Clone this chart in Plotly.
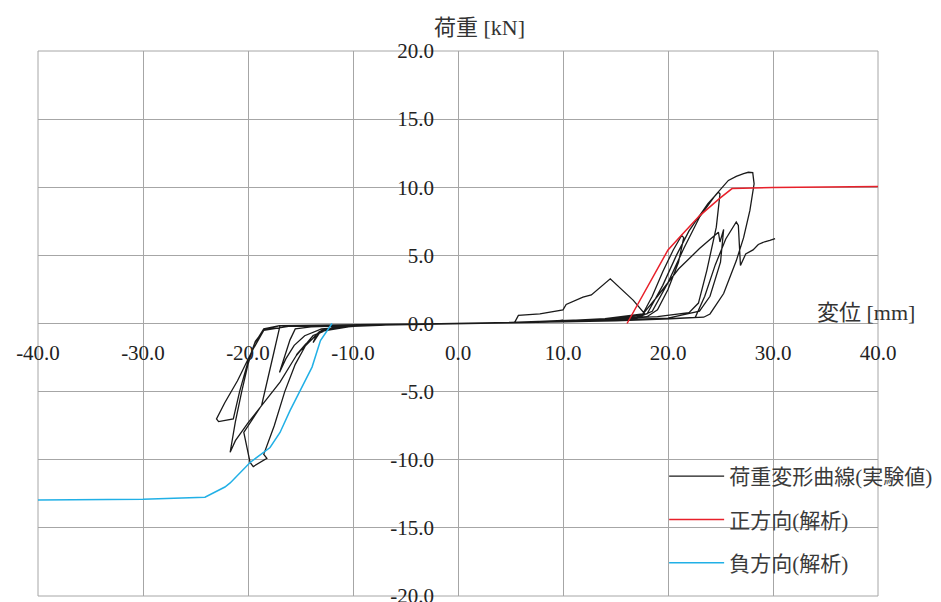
import plotly.graph_objects as go

# ---------------- data ----------------
# experimental load-displacement cycles (displacement mm, load kN)
c1_x = [0, 2.5, 5.0, 4.0, 0, -2.5, -5.0, -4.0, 0]
c1_y = [0, 0.03, 0.08, 0.05, 0, -0.03, -0.08, -0.05, 0]
c2_x = [0, 5, 10.0, 8.5, 4, 0, -5, -10.0, -8.5, -4, 0]
c2_y = [0, 0.06, 0.22, 0.14, 0.05, 0.0, -0.06, -0.2, -0.12, -0.04, 0]
pa_x = [0, 5.4, 5.75, 7.8, 10.0, 10.3, 11.9, 12.7, 14.5, 16.7, 17.8, 17.0, 15.0, 10.0, 5.0, 0]
pa_y = [0, 0.08, 0.59, 0.71, 1.0, 1.4, 1.93, 2.1, 3.28, 1.7, 0.7, 0.45, 0.35, 0.2, 0.08, 0]
na_x = [0, -5, -10, -12, -13.2, -13.8, -13.5, -14.5, -15.4, -14.6, -13.2, -10, -5, 0]
na_y = [0, -0.05, -0.15, -0.3, -0.7, -1.4, -0.9, -1.5, -2.3, -1.7, -0.6, -0.2, -0.05, 0]
pb_x = [0, 8, 14, 17.6, 18.5, 19.5, 20.5, 21.3, 21.5, 21.0, 20.0, 19.0, 18.0, 12.0, 5, 0]
pb_y = [0, 0.12, 0.35, 0.7, 2.0, 3.8, 5.4, 6.46, 6.3, 4.5, 2.5, 1.0, 0.5, 0.2, 0.05, 0]
nb_x = [0, -8, -14, -15.5, -16.0, -16.5, -17.0, -16.4, -15.6, -14.6, -13, -8, 0]
nb_y = [0, -0.1, -0.25, -0.4, -1.2, -2.4, -3.6, -2.6, -1.6, -0.9, -0.4, -0.1, 0]
pc_x = [0, 10, 15, 18.0, 19.5, 20.8, 22.0, 23.0, 23.8, 24.4, 24.8, 24.95, 24.6, 23.7, 22.9, 22.0, 19, 10, 0]
pc_y = [0, 0.15, 0.4, 0.7, 2.8, 5.0, 6.8, 7.9, 8.8, 9.3, 9.64, 9.5, 7.07, 3.9, 1.5, 0.8, 0.5, 0.15, 0]
nc_x = [0, -10, -15, -17, -18.5, -19.6, -21, -22.2, -23, -22.8, -21.4, -20.8, -20.0, -19.3, -18.5, -16, -10, 0]
nc_y = [0, -0.12, -0.2, -0.15, -0.5, -2.0, -4.2, -5.8, -7.0, -7.2, -7.0, -5.0, -2.8, -1.3, -0.5, -0.2, -0.1, 0]
pd_x = [0, 10, 17, 18.5, 20, 21.5, 23, 24.5, 25.75, 26.5, 27.2, 27.65, 28.07, 28.2, 27.8, 27.2, 26.5, 25.3, 24.0, 23.4, 20.2, 15, 5, 0]
pd_y = [0, 0.12, 0.4, 0.9, 3.0, 5.5, 7.8, 9.4, 10.5, 10.8, 11.0, 11.1, 11.07, 10.25, 8.3, 6.3, 4.6, 2.2, 0.7, 0.46, 0.35, 0.2, 0.05, 0]
nd_x = [0, -10, -17, -18.5, -19.4, -20.0, -20.6, -21.2, -21.7, -21.2, -20.0, -18.7, -16.95, -15.4, -13.8, -12, -8, 0]
nd_y = [0, -0.15, -0.15, -0.4, -1.5, -3.0, -5.0, -7.2, -9.45, -8.6, -7.3, -6.0, -4.3, -2.35, -0.88, -0.3, -0.1, 0]
pe_x = [0, 12, 17.5, 19, 21, 23, 24.8, 24.95, 25.3, 25.0, 24.0, 23.0, 20.0, 10, 0]
pe_y = [0, 0.2, 0.6, 2.0, 4.0, 5.5, 6.7, 5.98, 6.9, 4.5, 2.0, 0.9, 0.4, 0.15, 0]
ne_x = [0, -10, -15, -16.95, -17.5, -18.1, -18.7, -20.4, -19.8, -19.5, -18.2, -18.5, -17.5, -16.5, -15.5, -14.5, -13, -10, 0]
ne_y = [0, -0.1, -0.15, -0.15, -2.0, -4.0, -6.0, -8.0, -10.2, -10.5, -9.9, -9.6, -7.5, -5.0, -3.0, -1.6, -0.5, -0.15, 0]
pf_x = [0, 10, 15, 20, 22.6, 23.5, 24.5, 25.5, 26.5, 26.7, 26.9, 27.4, 28.1, 28.6, 29.2, 29.7, 30.2]
pf_y = [0, 0.12, 0.2, 0.35, 0.45, 2.0, 4.3, 6.2, 7.45, 7.2, 4.25, 5.1, 5.4, 5.8, 6.0, 6.1, 6.23]

# analysis, positive direction
pos_x = [16.1, 18.0, 20.0, 21.3, 23.0, 24.95, 26.1, 30, 40]
pos_y = [0, 2.6, 5.4, 6.5, 7.9, 9.2, 9.9, 9.98, 10.05]
# analysis, negative direction
neg_x = [-40, -30, -24.1, -22.2, -21.7, -19.8, -17.9, -16.95, -16.0, -15.05, -13.9, -13.1, -12.2, -12.0]
neg_y = [-12.95, -12.9, -12.75, -12.0, -11.7, -10.2, -9.1, -8.0, -6.4, -4.9, -3.2, -1.25, -0.15, 0.0]

x_ticks = [-40, -30, -20, -10, 0, 10, 20, 30, 40]
x_ticktext = ["-40.0", "-30.0", "-20.0", "-10.0", "0.0", "10.0", "20.0", "30.0", "40.0"]
y_ticks = [-20, -15, -10, -5, 0, 5, 10, 15, 20]
y_ticktext = ["-20.0", "-15.0", "-10.0", "-5.0", "0.0", "5.0", "10.0", "15.0", "20.0"]

names = ["荷重変形曲線(実験値)", "正方向(解析)", "負方向(解析)"]

exp_x = c1_x + c2_x + pa_x + na_x + pb_x + nb_x + pc_x + nc_x + pd_x + nd_x + pe_x + ne_x + pf_x
exp_y = c1_y + c2_y + pa_y + na_y + pb_y + nb_y + pc_y + nc_y + pd_y + nd_y + pe_y + ne_y + pf_y

# ---------------- figure ----------------
FONT = "Liberation Serif, Noto Sans CJK JP, serif"
GRID = "#a6a6a6"

fig = go.Figure()
fig.add_trace(go.Scatter(x=exp_x, y=exp_y, mode="lines", name=names[0], legendgroup="a",
                         line=dict(color="#1a1a1a", width=1.3)))
fig.add_trace(go.Scatter(x=pos_x, y=pos_y, mode="lines", name=names[1], legendgroup="b",
                         line=dict(color="#e8202a", width=1.5)))
fig.add_trace(go.Scatter(x=neg_x, y=neg_y, mode="lines", name=names[2], legendgroup="c",
                         line=dict(color="#21b0e6", width=1.5)))

fig.update_layout(
    width=941, height=602,
    margin=dict(l=38, r=63, t=51, b=6, autoexpand=False),
    paper_bgcolor="white", plot_bgcolor="white",
    font=dict(family=FONT, size=21, color="#222"),
    showlegend=True,
    legend=dict(x=0.7454, y=0.257, xanchor="left", yanchor="top",
                bgcolor="rgba(0,0,0,0)", borderwidth=0,
                font=dict(family=FONT, size=21, color="#3a3a3a"),
                traceorder="grouped", tracegroupgap=13, itemwidth=55),
    xaxis=dict(range=[-40, 40], tickvals=x_ticks, ticktext=x_ticktext,
               showgrid=True, gridcolor=GRID, gridwidth=1,
               zeroline=True, zerolinecolor=GRID, zerolinewidth=1,
               showline=False, anchor="free", position=0.5, automargin=False,
               ticks="", ticklabelstandoff=14, ticklabeloverflow="allow", fixedrange=True),
    yaxis=dict(range=[-20, 20], tickvals=y_ticks, ticktext=y_ticktext,
               showgrid=True, gridcolor=GRID, gridwidth=1,
               zeroline=True, zerolinecolor=GRID, zerolinewidth=1,
               showline=False, anchor="free", position=0.5, automargin=False,
               ticks="", ticklabelstandoff=24, ticklabeloverflow="allow", fixedrange=True),
    shapes=[dict(type="rect", xref="paper", yref="paper", x0=0, y0=0, x1=1, y1=1,
                 line=dict(color=GRID, width=1), layer="below")],
    annotations=[
        dict(text="荷重 [kN]", xref="paper", yref="paper", x=0.526, y=1.0, yshift=24,
             showarrow=False, xanchor="center", yanchor="middle",
             font=dict(family=FONT, size=22, color="#333")),
        dict(text="変位 [mm]", xref="paper", yref="paper", x=1.0, y=0.5, xshift=39, yshift=11,
             showarrow=False, xanchor="right", yanchor="middle",
             font=dict(family=FONT, size=22, color="#333")),
    ],
)

fig.write_html("out.html")
